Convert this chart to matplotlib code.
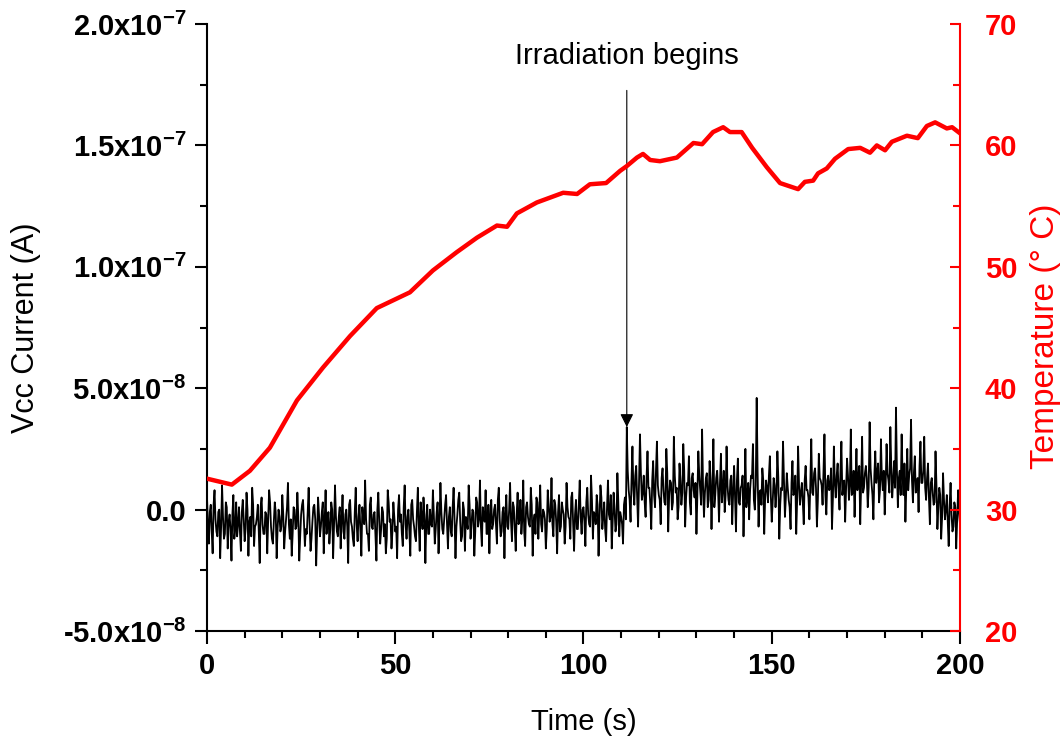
import matplotlib
matplotlib.use("Agg")
import matplotlib.pyplot as plt
from matplotlib.ticker import FixedLocator, FixedFormatter, MultipleLocator
import numpy as np

plt.rcParams['font.family'] = ['Liberation Sans', 'DejaVu Sans']
plt.rcParams['mathtext.fontset'] = 'custom'
plt.rcParams['mathtext.rm'] = 'Liberation Sans:bold'
plt.rcParams['mathtext.bf'] = 'Liberation Sans:bold'
plt.rcParams['mathtext.it'] = 'Liberation Sans:bold'
plt.rcParams['path.simplify'] = False

# Temperature trace (s, deg C)
temp_time = [0, 6.6, 11.4, 16.7, 23.9, 30.8, 38.0, 45.1, 53.9, 60.0, 66.3, 71.7, 77.0,
             79.7, 82.3, 87.6, 94.6, 98.3, 101.7, 106.0, 109.7, 111.5, 114.2, 115.8,
             117.7, 120.3, 124.8, 129.2, 131.5, 134.4, 137.1, 138.9, 142.0, 144.8,
             148.7, 152.2, 157.0, 158.8, 161.0, 162.3, 164.6, 166.8, 170.3, 173.5,
             176.1, 177.9, 180.1, 181.9, 185.9, 188.8, 191.2, 193.4, 196.5, 197.9, 200]
temp_vals = [32.55, 32.06, 33.2, 35.1, 39.0, 41.7, 44.3, 46.6, 47.9, 49.7, 51.2, 52.4, 53.4,
             53.3, 54.4, 55.3, 56.1, 56.0, 56.8, 56.9, 57.9, 58.3, 59.0, 59.3,
             58.8, 58.7, 59.0, 60.2, 60.1, 61.1, 61.5, 61.1, 61.1, 59.8,
             58.2, 56.9, 56.4, 57.0, 57.1, 57.7, 58.1, 58.9, 59.7, 59.8,
             59.4, 60.0, 59.6, 60.3, 60.8, 60.6, 61.6, 61.9, 61.4, 61.5, 61.0]

# current_even_nA: samples at 0, 0.5, 1.0 ... 200 s
current_even_nA = [
    5, -14, 2, -18, 8, -9, -1, -20, 10, -12, 3, -16, -2, -21, 6, -8, -11, 1, -17, 4,
    -13, 7, -19, -3, 9, -15, -6, 2, -22, 5, -10, -1, -18, 8, -7, -14, 3, -20, 0, -9,
    6, -16, -4, 11, -12, -19, 1, -8, 7, -21, -2, 4, -15, -10, 9, -17, -5, 2, -23, 5,
    -11, -1, -18, 8, -6, -14, 3, -20, 10, -9, -3, -16, 6, -12, 0, -22, 4, -7, -15, 9,
    -13, 2, -19, -4, 12, -10, -17, 5, -8, -1, -21, 7, -14, 1, -11, -18, 8, -5, -16, 3,
    -9, -20, 6, -2, -15, 10, -12, 0, -19, 4, -7, -13, 9, -17, -3, 5, -22, 2, -10, -6,
    8, -14, -1, -18, 11, -8, -4, 6, -16, 1, -11, 9, -20, -2, 7, -13, 3, -17, -5, 10,
    -12, 0, -19, 5, -7, 12, -15, -3, 8, -10, -18, 4, -6, 2, -14, 9, -11, -1, -20, 6,
    -8, 11, -13, 1, -17, 7, -4, -10, 12, -15, 3, -6, 9, -19, -2, 5, -12, 10, -9, -1,
    -16, 8, -5, 13, -11, 2, -18, 6, -7, 0, -14, 11, -3, -12, 7, -17, 4, -8, 12, -10,
    1, -15, 9, -6, 14, -12, -2, 6, -19, 10, -8, 3, -13, 12, -4, -16, 7, -9, 15, -11,
    -3, -14, 5, 34, 8, -5, 26, 2, 18, -7, 31, 4, 14, -3, 24, 9, -8, 20, 1, 28,
    6, -6, 17, 3, 25, -9, 12, 0, 30, 7, -4, 19, 2, 27, -7, 11, 22, -2, 15, 5,
    -10, 24, 8, 33, -3, 13, 1, 20, -8, 29, 6, 16, -5, 23, 9, -1, 26, 4, 12, -6,
    18, -9, 21, 2, 10, -11, 25, 5, -4, 14, 27, 0, 46, -7, 8, 17, -10, 12, 3, 22,
    -5, 13, 1, 24, -12, 9, 28, -3, 15, 4, -8, 20, 7, -10, 26, 2, 11, -6, 18, 8,
    -4, 29, 6, 17, -7, 23, 12, 2, 31, -2, 14, 9, -8, 26, 5, 19, 0, 28, 10, -5,
    21, 4, 33, 7, -3, 25, 13, -6, 30, 9, 18, 1, 36, 11, -4, 24, 15, 3, 29, 8,
    -2, 27, 12, 34, 5, 20, 42, 1, 16, 31, 6, -5, 25, 14, 37, 3, 22, 9, -1, 28,
    11, 30, 4, 19, -6, 13, 2, 24, -8, 9, -12, 15, -4, 6, -15, 11, -9, 3, -16, 8,
    -6,
]
# current_odd_nA: samples at 0.25, 0.75, 1.25 ... 199.75 s
current_odd_nA = [
    -6, -1, -9, 2, -4, -11, 0, -7, -3, -10, 1, -5, -8, -2, -12, 3, -6, -9, -1, -4,
    -8, 0, -5, -11, 2, -7, -3, -9, 1, -6, -10, -2, -4, 3, -12, -5, -1, -8, -3, -7,
    -2, -9, 1, -6, -4, -10, 0, -7, -3, -11, 2, -5, -8, -1, -6, -12, 1, -4, -9, -2,
    -7, 3, -5, -10, -1, -8, 0, -6, -3, -11, 1, -4, -9, -2, -7, 2, -5, -12, -1, -6,
    -3, -9, 1, -6, -4, -10, 2, -7, -2, -11, 0, -5, -8, -1, -6, -12, 3, -4, -9, -3,
    -7, 0, -5, -10, 1, -6, -3, -9, 2, -4, -11, -1, -6, 3, -8, -2, -5, -10, 0, -7,
    -2, -8, 3, -5, -1, -10, 2, -6, -3, -9, 1, -4, -7, 4, -5, -11, 0, -3, -8, 2,
    -6, -1, -9, 3, -4, -7, 1, -5, -10, 2, -3, -8, 0, -6, 4, -4, -9, 1, -2, -7,
    0, -5, 3, -8, -2, -6, 4, -4, -9, 1, -3, -7, 2, -5, -10, 3, -1, -6, 0, -4,
    -8, 2, -3, -6, 4, -5, -1, -9, 3, -2, -7, 1, -4, 5, -6, -2, -8, 2, -3, 0,
    -5, 3, -2, -7, 4, -1, -6, 2, -4, 5, -3, -8, 1, -2, 6, -5, 0, -6, 3, -1,
    -6, 2, -4, 16, 4, 12, 8, 14, 5, 11, 15, 7, 3, 13, 9, 2, 12, 6, 16, 10,
    4, 13, 8, 2, 15, 6, 11, 3, 14, 9, 1, 12, 7, 16, 5, 10, 3, 13, 8, 11,
    6, 14, 2, 10, 7, 15, 4, 12, 9, 1, 13, 8, 11, 3, 16, 6, 10, 2, 14, 7,
    5, 12, 3, 9, 14, 6, 1, 11, 8, 13, 4, 10, 15, 7, 2, 12, 5, 9, 14, 6,
    3, 10, 7, 13, 2, 8, 12, 5, 9, 1, 11, 6, 14, 4, 10, 7, 3, 12, 8, 5,
    11, 7, 15, 9, 4, 13, 10, 16, 6, 12, 8, 17, 5, 11, 14, 8, 16, 6, 12, 9,
    14, 10, 6, 16, 12, 8, 18, 11, 7, 15, 13, 9, 17, 6, 14, 11, 19, 8, 13, 16,
    10, 15, 7, 18, 12, 9, 16, 13, 6, 14, 19, 10, 8, 17, 12, 15, 7, 13, 18, 11,
    16, 9, 13, 5, 11, 7, 3, 10, 1, 6, -3, 4, 0, -5, 2, -2, -7, 1, -4, -1,
]
current_step = 0.25

left_ticks = [-5e-8, 0, 5e-8, 1e-7, 1.5e-7, 2e-7]
left_labels = [r'-5.0x10$^{-8}$', '0.0', r'5.0x10$^{-8}$', r'1.0x10$^{-7}$',
               r'1.5x10$^{-7}$', r'2.0x10$^{-7}$']
right_ticks = [20, 30, 40, 50, 60, 70]
x_ticks = [0, 50, 100, 150, 200]

arrow_time = 111.5
arrow_tip = 3.4e-8
arrow_text_y = 1.87e-7

# merge the two sample lists back into time order
current_nA = []
for i in range(len(current_odd_nA)):
    current_nA.append(current_even_nA[i])
    current_nA.append(current_odd_nA[i])
current_nA.append(current_even_nA[-1])
current_time = np.arange(len(current_nA)) * current_step
current = np.array(current_nA) * 1e-9

red = '#ff0000'

fig = plt.figure(figsize=(10.61, 7.37), dpi=100)
ax = fig.add_axes([0.1951, 0.1438, 0.7097, 0.8236])
ax2 = ax.twinx()

ax.plot(current_time, current, color='black', lw=1.3)
ax2.plot(temp_time, temp_vals, color=red, lw=3.2)

ax.set_xlim(0, 200)
ax.set_ylim(-5e-8, 2e-7)
ax2.set_ylim(20, 70)

ax.xaxis.set_major_locator(FixedLocator(x_ticks))
ax.xaxis.set_minor_locator(MultipleLocator(10))
ax.yaxis.set_major_locator(FixedLocator(left_ticks))
ax.yaxis.set_major_formatter(FixedFormatter(left_labels))
ax.yaxis.set_minor_locator(MultipleLocator(2.5e-8))
ax2.yaxis.set_major_locator(FixedLocator(right_ticks))
ax2.yaxis.set_minor_locator(MultipleLocator(5))

for s in ['top', 'right']:
    ax.spines[s].set_visible(False)
for s in ['top', 'left', 'bottom']:
    ax2.spines[s].set_visible(False)
ax.spines['left'].set_linewidth(1.5)
ax.spines['bottom'].set_linewidth(1.5)
ax2.spines['right'].set_linewidth(1.5)
ax2.spines['right'].set_color(red)

ax.tick_params(which='major', direction='out', length=9, width=1.5, labelsize=21, pad=6)
ax.tick_params(which='minor', direction='out', length=5, width=1.5)
ax2.tick_params(which='major', direction='in', length=7, width=1.5, colors=red,
                labelsize=21, pad=18)
ax2.tick_params(which='minor', direction='in', length=5, width=1.5, colors=red)
for lab in ax.get_xticklabels() + ax.get_yticklabels() + ax2.get_yticklabels():
    lab.set_fontweight('bold')

ax.set_xlabel('Time (s)', fontsize=21, labelpad=20)
ax.set_ylabel('Vcc Current (A)', fontsize=22)
ax.yaxis.set_label_coords(-0.22, 0.5)
ax2.set_ylabel('Temperature (° C)', fontsize=24, color=red)
ax2.yaxis.set_label_coords(1.093, 0.485)

ax.annotate('Irradiation begins', xy=(arrow_time, arrow_tip),
            xytext=(arrow_time, arrow_text_y), ha='center', va='center', fontsize=21,
            arrowprops=dict(arrowstyle='-|>', color='black', lw=0.8,
                            mutation_scale=20, shrinkA=13, shrinkB=0))

fig.savefig('out.png', dpi=100)
